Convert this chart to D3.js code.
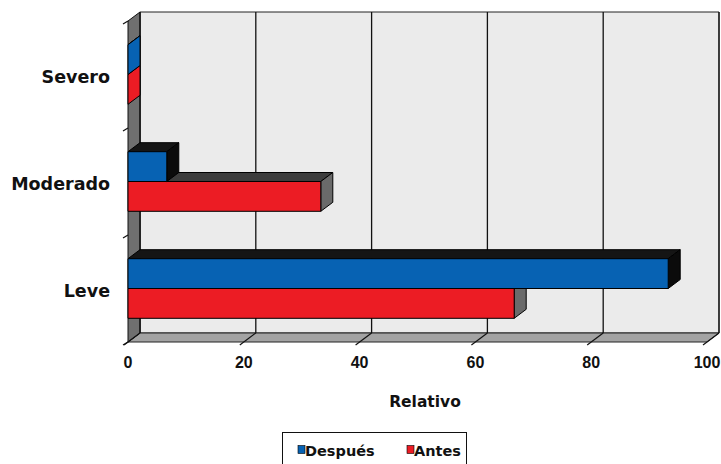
<!DOCTYPE html>
<html>
<head>
<meta charset="utf-8">
<script src="https://cdn.jsdelivr.net/npm/d3@7"></script>
<style>
  html, body { margin: 0; padding: 0; background: #ffffff; }
  svg { display: block; }
  text { font-family: "Liberation Sans", Arial, sans-serif; font-weight: bold; fill: #111; }
  .wide { font-family: "DejaVu Sans", "Liberation Sans", sans-serif; }
</style>
</head>
<body>
<svg id="chart" width="721" height="464"></svg>
<script>
// Severity categories, top to bottom
const categories = ["Severo", "Moderado", "Leve"];
// Series names (legend order)
const seriesNames = ["Después", "Antes"];
// Relative frequency (%) per category
const despues = [0, 6.7, 93.3];
const antes = [0, 33.3, 66.7];
// Value axis ticks
const xTicks = [0, 20, 40, 60, 80, 100];
const xLabel = "Relativo";

const colors = { "Después": "#0762b3", "Antes": "#ec1c24" };
const topShade = { "Después": "#151515", "Antes": "#3c3c3c" };
const sideShade = { "Después": "#0b0b0b", "Antes": "#6a6a6a" };

const svg = d3.select("#chart");
const DX = 12, DY = 9; // oblique depth offset of the 3D box

const x = d3.scaleLinear().domain([0, 100]).range([128, 707]);
const y = d3.scaleBand().domain(categories).range([21, 342]).paddingInner(0).paddingOuter(0);
const ySub = d3.scaleBand().domain(seriesNames).range([0, y.bandwidth()]).paddingInner(0).paddingOuter(0.795);

const x0 = x(0), x1 = x(100), yTop = y.range()[0], yBot = y.range()[1];
const poly = pts => pts.map(p => p.join(",")).join(" ");

// Back wall
svg.append("polygon")
  .attr("points", poly([[x0 + DX, yTop - DY], [x1 + DX, yTop - DY], [x1 + DX, yBot - DY], [x0 + DX, yBot - DY]]))
  .attr("fill", "#ebebeb").attr("stroke", "#222").attr("stroke-width", 1);

// Floor
svg.append("polygon")
  .attr("points", poly([[x0, yBot], [x1, yBot], [x1 + DX, yBot - DY], [x0 + DX, yBot - DY]]))
  .attr("fill", "#a3a3a3").attr("stroke", "#222").attr("stroke-width", 1);

// Left wall
svg.append("polygon")
  .attr("points", poly([[x0, yTop], [x0 + DX, yTop - DY], [x0 + DX, yBot - DY], [x0, yBot]]))
  .attr("fill", "#6f6f6f").attr("stroke", "#111").attr("stroke-width", 1);

// Gridlines on back wall + floor, with tick stubs
const grid = svg.append("g");
xTicks.forEach(t => {
  const xb = x(t) + DX;
  grid.append("line").attr("x1", xb).attr("x2", xb).attr("y1", yTop - DY).attr("y2", yBot - DY)
    .attr("stroke", "#111").attr("stroke-width", 1.3);
  grid.append("line").attr("x1", xb).attr("y1", yBot - DY).attr("x2", x(t) - 4).attr("y2", yBot + 3)
    .attr("stroke", "#111").attr("stroke-width", 1.2);
});

// Category tick marks on the left wall
categories.concat([null]).forEach(c => {
  const yy = c === null ? yBot : y(c);
  svg.append("line").attr("x1", x0 - 5).attr("y1", yy + 3).attr("x2", x0).attr("y2", yy)
    .attr("stroke", "#111").attr("stroke-width", 1.2);
});

// Bars (Antes drawn first so Después front face covers its top)
const bars = svg.append("g");
const drawOrder = ["Antes", "Después"];
const valuesBySeries = { "Después": despues, "Antes": antes };
categories.forEach((cat, ci) => {
  drawOrder.forEach(s => {
    const v = valuesBySeries[s][ci];
    const yy = y(cat) + ySub(s), h = ySub.bandwidth();
    const xs = x0, xe = x(v);
    const g = bars.append("g").attr("stroke", "#000").attr("stroke-width", 1).attr("stroke-linejoin", "round");
    // top face
    g.append("polygon").attr("points", poly([[xs, yy], [xe, yy], [xe + DX, yy - DY], [xs + DX, yy - DY]]))
      .attr("fill", topShade[s]);
    // end face
    g.append("polygon").attr("points", poly([[xe, yy], [xe + DX, yy - DY], [xe + DX, yy + h - DY], [xe, yy + h]]))
      .attr("fill", v === 0 ? colors[s] : sideShade[s]);
    // front face
    if (v > 0) {
      g.append("rect").attr("x", xs).attr("y", yy).attr("width", xe - xs).attr("height", h)
        .attr("fill", colors[s]);
    }
  });
});

// Value axis labels
svg.append("g").selectAll("text").data(xTicks).join("text")
  .attr("x", d => x(d)).attr("y", 368).attr("text-anchor", "middle")
  .style("font-size", "16px").text(d => d);

// Category labels
svg.append("g").selectAll("text").data(categories).join("text")
  .attr("class", "wide")
  .attr("x", 110).attr("y", d => y(d) + y.bandwidth() / 2 + 8).attr("text-anchor", "end")
  .style("font-size", "17.5px").text(d => d);

// Axis title
svg.append("text").attr("class", "wide").attr("x", 425).attr("y", 407).attr("text-anchor", "middle")
  .style("font-size", "15.5px").text(xLabel);

// Legend
const lg = svg.append("g");
lg.append("rect").attr("x", 282.5).attr("y", 432.5).attr("width", 184).attr("height", 40)
  .attr("fill", "#fff").attr("stroke", "#111").attr("stroke-width", 1);
const legendX = [298, 407];
seriesNames.forEach((s, i) => {
  lg.append("rect").attr("x", legendX[i]).attr("y", 445.5).attr("width", 7).attr("height", 8)
    .attr("fill", colors[s]).attr("stroke", "#000").attr("stroke-width", 0.6);
  lg.append("text").attr("class", "wide").attr("x", legendX[i] + 7).attr("y", 456)
    .style("font-size", "14.5px").text(s);
});
</script>
</body>
</html>
